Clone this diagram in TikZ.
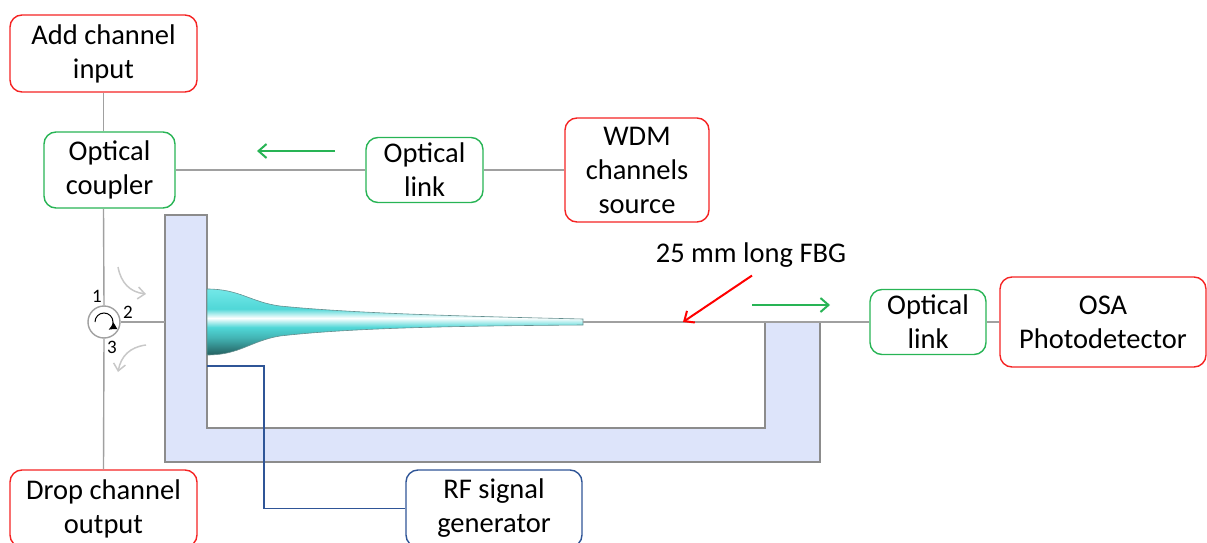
\documentclass[tikz,border=0pt]{standalone}
\usepackage{fontspec}
\setmainfont{Carlito}
\usepackage{tikz}
\usetikzlibrary{arrows.meta}

\definecolor{boxred}{RGB}{245,35,35}
\definecolor{boxgreen}{RGB}{40,180,85}
\definecolor{boxblue}{RGB}{47,85,151}
\definecolor{wire}{RGB}{160,160,160}
\definecolor{holder}{RGB}{221,228,250}
\definecolor{holderedge}{RGB}{140,140,140}
\definecolor{flow}{RGB}{200,200,200}
\definecolor{taperdark}{RGB}{35,95,95}
\definecolor{tapermid}{RGB}{80,215,215}
\definecolor{taperlight}{RGB}{115,232,232}

\pgfdeclareverticalshading{taper}{100bp}{color(0bp)=(taperdark); color(25bp)=(taperdark); color(38bp)=(tapermid!70!taperdark); color(46bp)=(tapermid); color(53bp)=(white); color(60bp)=(tapermid); color(75bp)=(taperlight); color(100bp)=(taperlight)}

\begin{document}
\begin{tikzpicture}[x=1pt, y=-1pt,
	box/.style={draw, rounded corners=12pt, line width=1.4pt, align=center, inner sep=0pt, font=\fontsize{28.5}{34}\selectfont},
	redbox/.style={box, draw=boxred},
	greenbox/.style={box, draw=boxgreen},
	bluebox/.style={box, draw=boxblue},
	wire/.style={draw=wire, line width=1.4pt},
	flowarrow/.style={draw=flow, line width=1.5pt, -{Straight Barb[length=7pt, width=12pt]}},
	greenarrow/.style={draw=boxgreen, line width=2pt, -{Straight Barb[length=8pt, width=14pt]}},
	redarrow/.style={draw=red, line width=2pt, -{Straight Barb[length=8pt, width=14pt]}},
	port/.style={inner sep=0pt, font=\fontsize{19}{22}\selectfont}]
	\useasboundingbox (0,0) rectangle (1207,543);

	% fibre holder
	\filldraw[fill=holder, draw=holderedge, line width=1.4pt] (165,215) -- (207,215) -- (207,428) -- (765,428) -- (765,322) -- (820,322) -- (820,462) -- (165,462) -- cycle;

	% boxes
	\node[redbox, minimum width=187pt, minimum height=77pt] (Add) at (103.5,53.5) {Add channel\\input};
	\node[greenbox, minimum width=131pt, minimum height=76pt] (Coupler) at (109.5,170) {Optical\\coupler};
	\node[greenbox, minimum width=117pt, minimum height=65pt] (Link1) at (424.5,170) {Optical\\link};
	\node[redbox, minimum width=144pt, minimum height=104pt] (WDM) at (637,170) {WDM\\channels\\source};
	\node[greenbox, minimum width=116pt, minimum height=65pt] (Link2) at (928,322) {Optical\\link};
	\node[redbox, minimum width=206pt, minimum height=90pt] (OSA) at (1103,322) {OSA\\Photodetector};
	\node[redbox, minimum width=187pt, minimum height=77pt] (Drop) at (103.5,508.5) {Drop channel\\output};
	\node[bluebox, minimum width=176pt, minimum height=77pt] (RF) at (494,508.5) {RF signal\\generator};

	% circulator
	\node[circle, draw=wire, line width=1.4pt, minimum size=32pt, inner sep=0pt] (Circ) at (104,322) {};
	\draw[line width=1pt, -{Latex[length=8pt, width=8pt]}] ([shift={(-9,0)}]Circ.center) arc[start angle=-180, end angle=60, radius=9];
	\node[port] (P1) at (97,296) {1};
	\node[port] (P2) at (128,312.5) {2};
	\node[port] (P3) at (112,347.5) {3};

	\coordinate (FrameIn) at (165,322);
	\coordinate (Tip) at (583,322);
	\coordinate (Mount) at (207,366);

	% tapered fibre
	\shadedraw[shading=taper, draw=taperdark!70, line width=0.6pt] (207,289) .. controls (240,289) and (250,302) .. (280,306) .. controls (350,313) and (450,316) .. (583,319) -- (583,325) .. controls (450,326) and (350,328) .. (280,336) .. controls (250,341) and (240,355) .. (207,355) -- cycle;

	% fibre links
	\draw[wire] (Add.south) -- (Add.south |- Coupler.north);
	\draw[wire] (Coupler.east) -- (Link1.west);
	\draw[wire] (Link1.east) -- (WDM.west);
	\draw[wire] (Add.south |- Coupler.south) -- (Circ.north);
	\draw[wire] (Circ.south) -- (Drop.north);
	\draw[wire] (Circ.east) -- (FrameIn);
	\draw[wire] (Tip) -- (Link2.west);
	\draw[wire] (Link2.east) -- (OSA.west);

	% RF drive
	\draw[draw=boxblue, line width=1.4pt] (Mount) -- (264,366) |- (RF.west);

	% light directions
	\draw[flowarrow] (118,267) .. controls (121,283) and (130,292) .. (146,294);
	\draw[flowarrow] (146,345) .. controls (130,347) and (121,356) .. (118,372);
	\draw[greenarrow] (335,151) -- (257,151);
	\draw[greenarrow] (752,305) -- (830,305);

	\node[inner sep=0pt, font=\fontsize{28.5}{34}\selectfont] (FBG) at (751,255) {25 mm long FBG};
	\coordinate (Grating) at (683,322);
	\draw[redarrow] ([xshift=1pt, yshift=-8pt]FBG.south) -- (Grating);
\end{tikzpicture}
\end{document}
